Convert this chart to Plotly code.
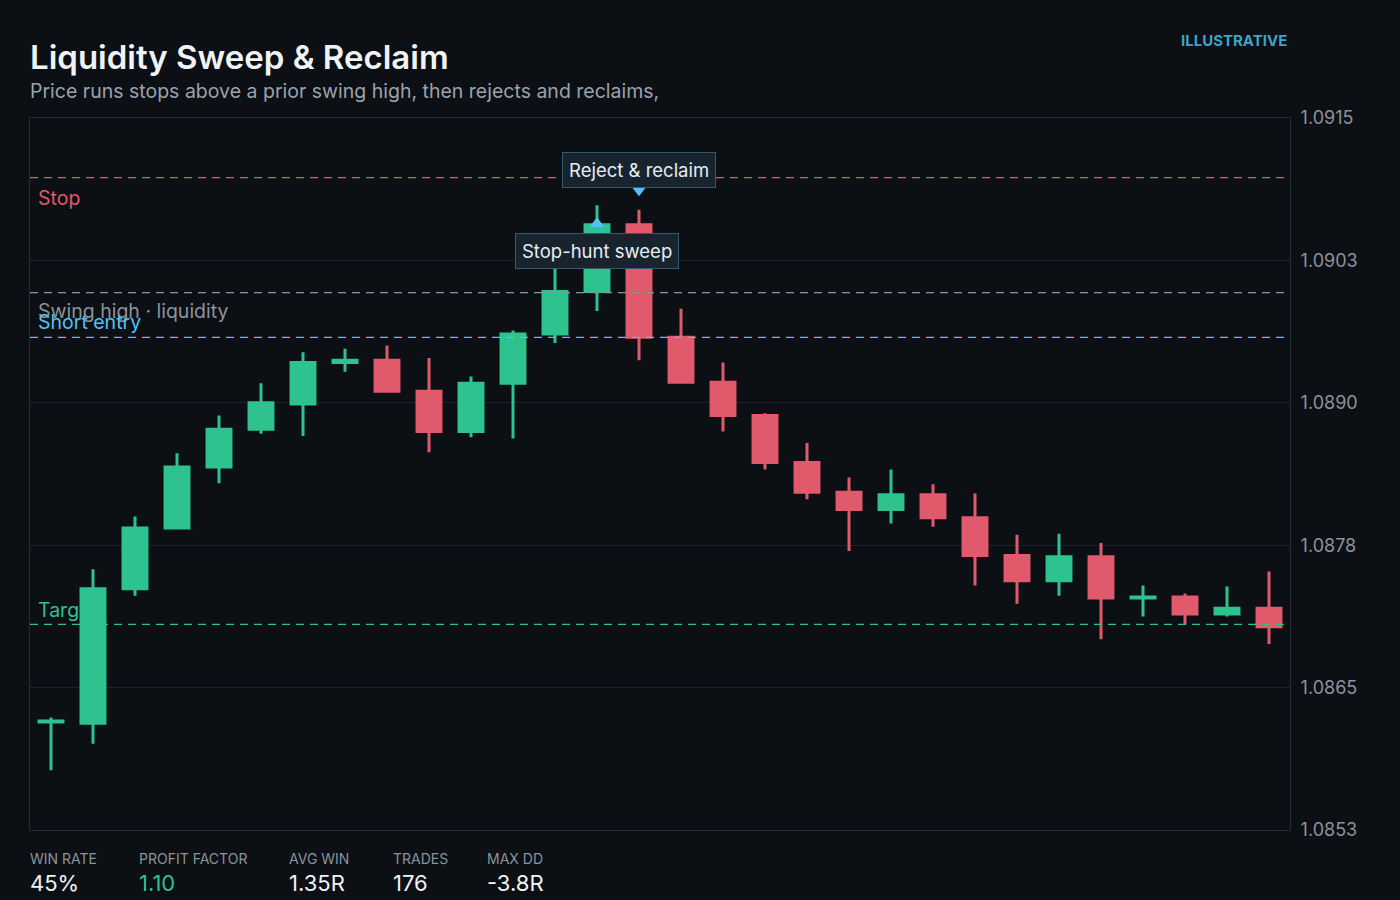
import numpy as np
import plotly.graph_objects as go

# ---------------- data ----------------
bars = list(range(30))
opens = [1.08624, 1.08623, 1.08740, 1.08793, 1.08846, 1.08879, 1.08901, 1.08937, 1.08939, 1.08912,
         1.08877, 1.08919, 1.08962, 1.08999, 1.09057, 1.08959, 1.08920, 1.08891, 1.08850, 1.08824,
         1.08809, 1.08822, 1.08802, 1.08769, 1.08747, 1.08768, 1.08732, 1.08733, 1.08718, 1.08723]
highs = [1.08628, 1.08757, 1.08803, 1.08858, 1.08891, 1.08919, 1.08946, 1.08949, 1.08952, 1.08941,
         1.08925, 1.08965, 1.09019, 1.09074, 1.09070, 1.08984, 1.08937, 1.08893, 1.08867, 1.08837,
         1.08844, 1.08831, 1.08823, 1.08787, 1.08788, 1.08780, 1.08743, 1.08736, 1.08742, 1.08755]
lows = [1.08582, 1.08605, 1.08734, 1.08793, 1.08832, 1.08875, 1.08873, 1.08929, 1.08911, 1.08859,
        1.08872, 1.08871, 1.08954, 1.08982, 1.08939, 1.08919, 1.08877, 1.08844, 1.08818, 1.08773,
        1.08797, 1.08794, 1.08743, 1.08727, 1.08734, 1.08696, 1.08716, 1.08709, 1.08716, 1.08692]
closes = [1.08625, 1.08740, 1.08793, 1.08846, 1.08879, 1.08902, 1.08937, 1.08939, 1.08912, 1.08877,
          1.08919, 1.08962, 1.08999, 1.09057, 1.08959, 1.08920, 1.08891, 1.08850, 1.08824, 1.08809,
          1.08822, 1.08802, 1.08769, 1.08747, 1.08768, 1.08732, 1.08733, 1.08718, 1.08723, 1.08707]

level_names = ["Stop", "Swing high · liquidity", "Short entry", "Target"]
level_values = [1.09098, 1.08998, 1.08959, 1.08709]

y_min, y_max = 1.0853, 1.0915
tick_labels = ["1.0853", "1.0865", "1.0878", "1.0890", "1.0903", "1.0915"]

sweep_bar = 13
reject_bar = 14

stat_labels = ["WIN RATE", "PROFIT FACTOR", "AVG WIN", "TRADES", "MAX DD"]
stat_values = ["45%", "1.10", "1.35R", "176", "-3.8R"]

title = "Liquidity Sweep & Reclaim"
subtitle = "Price runs stops above a prior swing high, then rejects and reclaims,"

# ---------------- style ----------------
BG = "#0c0f14"
GRID = "#1d2229"
FRAME = "#262c34"
GREEN = "#2ec28e"
RED = "#e05a6c"
BLUE = "#4fc3f7"
GRAY = "#8b949e"
TEXT = "#e6edf3"
FONT = "Inter, Roboto, sans-serif"

L, R, T, B = 30, 110, 118, 70
W, H = 1400, 900
plot_h = H - T - B
plot_w = W - L - R
unit = (y_max - y_min) / plot_h  # data units per pixel


def px_x(p):
    return (p - L) / plot_w


def px_y(p):
    return (H - B - p) / plot_h


level_colors = [RED, GRAY, BLUE, GREEN]
label_offsets = [-22, -21, 13, 12]  # px above(+)/below(-) the level

fig = go.Figure()

# level labels (under the candles)
for name, val, col, off in zip(level_names, level_values, level_colors, label_offsets):
    fig.add_trace(go.Scatter(
        x=[-0.5 + 8 / 42], y=[val + off * unit], mode="text", text=[name],
        textposition="middle right", textfont=dict(color=col, size=19.5, family=FONT),
        hoverinfo="skip", showlegend=False))

fig.add_trace(go.Candlestick(
    x=bars, open=opens, high=highs, low=lows, close=closes,
    increasing=dict(line=dict(color=GREEN, width=3), fillcolor=GREEN),
    decreasing=dict(line=dict(color=RED, width=3), fillcolor=RED),
    whiskerwidth=0, showlegend=False, hoverinfo="skip"))

# markers
fig.add_trace(go.Scatter(
    x=[sweep_bar], y=[closes[sweep_bar] + 1 * unit], mode="markers",
    marker=dict(symbol="triangle-up", size=13, color=BLUE, line=dict(width=0)),
    hoverinfo="skip", showlegend=False))
fig.add_trace(go.Scatter(
    x=[reject_bar], y=[highs[reject_bar] + 20 * unit], mode="markers",
    marker=dict(symbol="triangle-down", size=13, color=BLUE, line=dict(width=0)),
    hoverinfo="skip", showlegend=False))

# level lines (above candles)
for val, col in zip(level_values, level_colors):
    fig.add_shape(type="line", xref="paper", x0=0, x1=1, yref="y", y0=val, y1=val,
                  line=dict(color=col, width=1.3, dash="8px,6px"), layer="above")

annotations = [
    dict(x=reject_bar, y=highs[reject_bar], xref="x", yref="y", yshift=40,
         text="Reject & reclaim", showarrow=False, font=dict(size=18.5, color=TEXT, family=FONT),
         bgcolor="#17242e", bordercolor="#36596b", borderwidth=1, borderpad=6),
    dict(x=sweep_bar, y=highs[sweep_bar], xref="x", yref="y", yshift=-46,
         text="Stop-hunt sweep", showarrow=False, font=dict(size=18.5, color=TEXT, family=FONT),
         bgcolor="#17242e", bordercolor="#36596b", borderwidth=1, borderpad=6),
    dict(x=px_x(28), y=px_y(57), xref="paper", yref="paper", xanchor="left", yanchor="middle",
         text=title, showarrow=False,
         font=dict(size=33, color="#f0f3f6", family=FONT, weight=600)),
    dict(x=px_x(28), y=px_y(91), xref="paper", yref="paper", xanchor="left", yanchor="middle",
         text=subtitle, showarrow=False, font=dict(size=19.5, color="#9aa3ad", family=FONT)),
    dict(x=px_x(1289), y=px_y(40), xref="paper", yref="paper", xanchor="right", yanchor="middle",
         text="<b>ILLUSTRATIVE</b>", showarrow=False, font=dict(size=15, color="#3fa2c9", family=FONT)),
]

stat_x = [28, 137, 287, 391, 485]
for sx, lab, val in zip(stat_x, stat_labels, stat_values):
    annotations.append(dict(x=px_x(sx), y=px_y(858), xref="paper", yref="paper",
                            xanchor="left", yanchor="middle", text=lab, showarrow=False,
                            font=dict(size=14, color=GRAY, family=FONT)))
    annotations.append(dict(x=px_x(sx), y=px_y(883), xref="paper", yref="paper",
                            xanchor="left", yanchor="middle", text=val, showarrow=False,
                            font=dict(size=22, color=GREEN if lab == "PROFIT FACTOR" else "#f0f3f6",
                                      family=FONT)))

fig.update_layout(
    width=W, height=H, margin=dict(l=L, r=R, t=T, b=B),
    paper_bgcolor=BG, plot_bgcolor=BG, boxgap=0.43, boxgroupgap=0,
    annotations=annotations, showlegend=False,
    font=dict(family=FONT, color=GRAY),
    xaxis=dict(range=[-0.5, 29.5], showgrid=False, zeroline=False, showticklabels=False,
               rangeslider=dict(visible=False), showline=True, linecolor=FRAME, linewidth=1,
               mirror=True, ticks=""),
    yaxis=dict(range=[y_min, y_max], side="right", tickvals=list(np.linspace(y_min, y_max, 6)),
               ticktext=tick_labels, showgrid=True, gridcolor=GRID, gridwidth=1, zeroline=False,
               showline=True, linecolor=FRAME, linewidth=1, mirror=True, ticks="",
               tickfont=dict(size=18, color=GRAY, family=FONT), ticklabelstandoff=6),
)

fig.write_html("out.html")
